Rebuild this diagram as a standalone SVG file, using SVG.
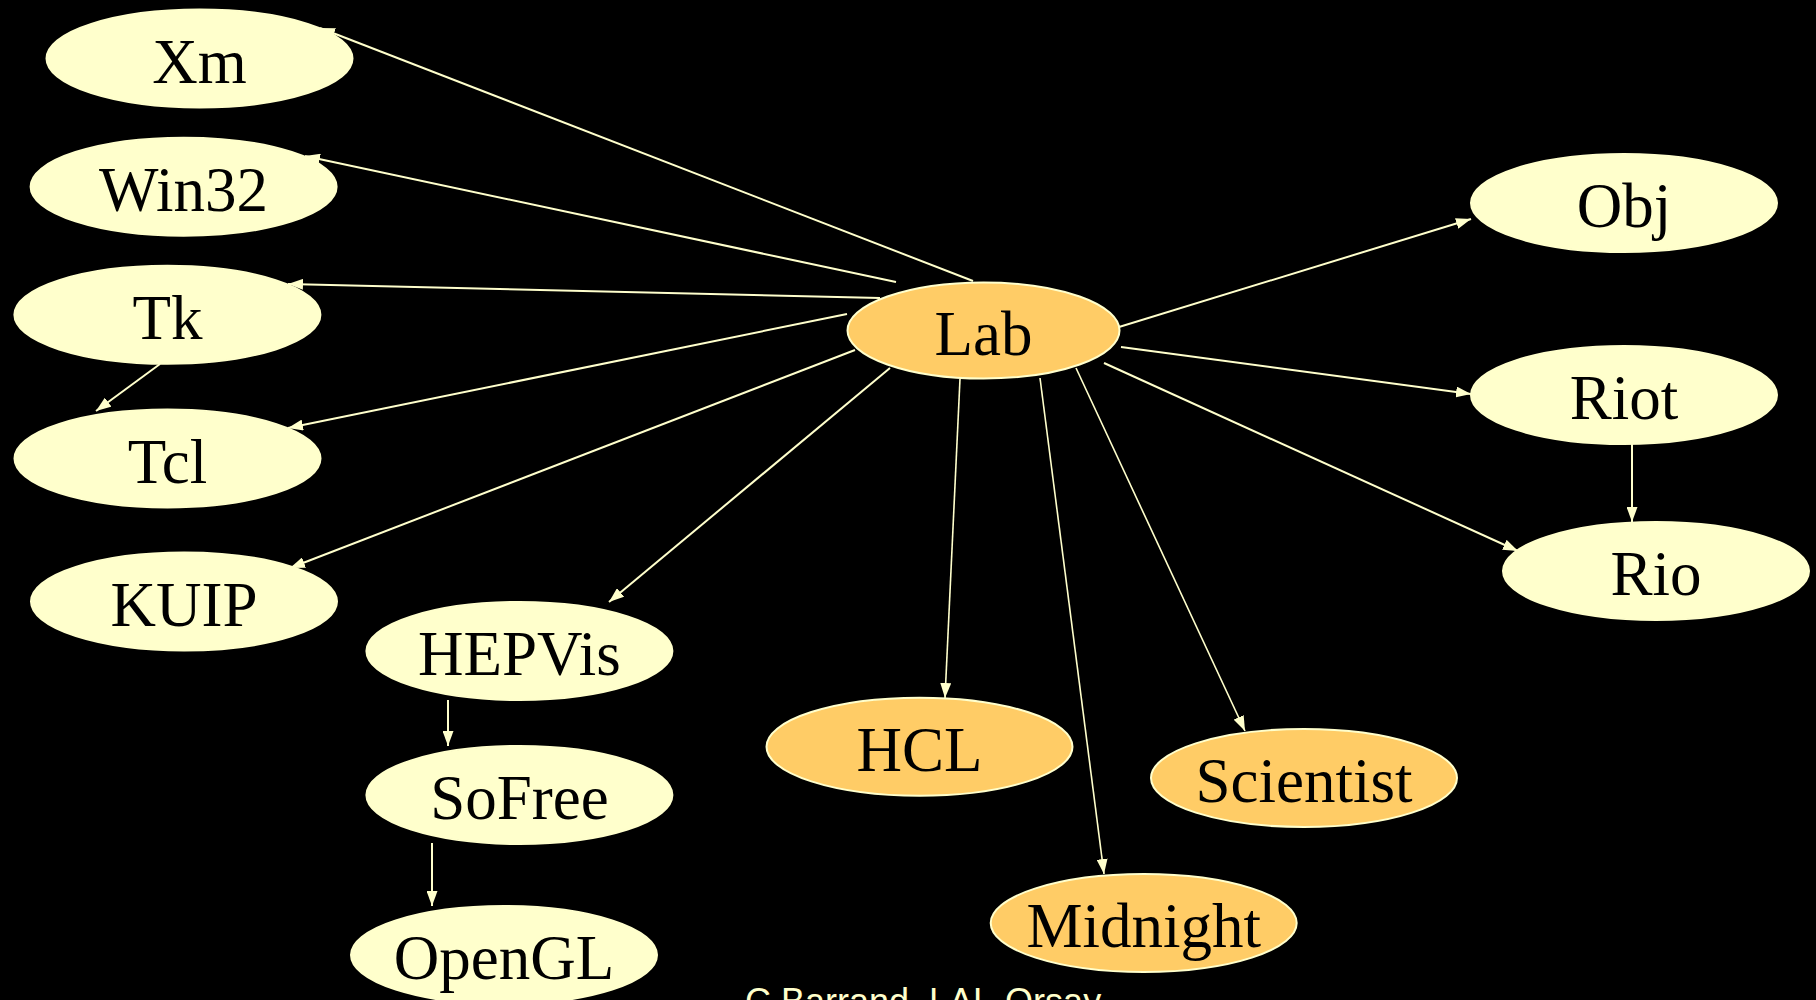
<svg xmlns="http://www.w3.org/2000/svg" width="1816" height="1000" viewBox="0 0 1816 1000">
<style>
.n ellipse{fill:#FFFFCC;stroke:#FFFFCC;stroke-width:2}
.n.o ellipse{fill:#FFCC66}
.n text{font-family:"Liberation Serif","Times New Roman",serif;font-size:63px;fill:#000;text-anchor:middle}
.e line{stroke:#FFFFCC;stroke-width:2;marker-end:url(#ah)}
.e line.t{stroke-width:1.6}
.foot{font-family:"Liberation Sans",Arial,sans-serif;font-size:36px;fill:#FFFFCC}
</style>
<defs>
<marker id="ah" viewBox="0 0 15 11" refX="15" refY="5.5" markerWidth="15" markerHeight="11" markerUnits="userSpaceOnUse" orient="auto">
<path d="M0,0 L15,5.5 L0,11 z" fill="#FFFFCC"/>
</marker>
</defs>
<rect width="1816" height="1000" fill="#000"/>
<g id="connectors" class="e">
<line x1="973" y1="281" x2="320" y2="28"/>
<line x1="896" y1="282" x2="305" y2="156"/>
<line x1="880" y1="298" x2="288" y2="284"/>
<line x1="847" y1="314" x2="288" y2="428"/>
<line x1="855" y1="350" x2="290" y2="568"/>
<line x1="890" y1="368" x2="609" y2="602"/>
<line x1="160" y1="364" x2="96" y2="411"/>
<line class="t" x1="960" y1="379" x2="945" y2="698"/>
<line class="t" x1="1040" y1="378" x2="1104" y2="874"/>
<line class="t" x1="1076" y1="368" x2="1245" y2="731"/>
<line x1="448" y1="700" x2="448" y2="746"/>
<line x1="432" y1="843" x2="432" y2="906"/>
<line x1="1106" y1="331" x2="1471" y2="219"/>
<line x1="1121" y1="347" x2="1471" y2="394"/>
<line x1="1104" y1="363" x2="1518" y2="551"/>
<line x1="1632" y1="443" x2="1632" y2="522"/>
</g>
<g id="Xm" class="n"><ellipse cx="199.5" cy="58.5" rx="153" ry="49"/><text x="199.5" y="82.5">Xm</text></g>
<g id="Win32" class="n"><ellipse cx="183.6" cy="186.7" rx="153" ry="49"/><text x="183.6" y="210.7">Win32</text></g>
<g id="Tk" class="n"><ellipse cx="167.4" cy="314.8" rx="153" ry="49"/><text x="167.4" y="338.8">Tk</text></g>
<g id="Tcl" class="n"><ellipse cx="167.5" cy="458.5" rx="153" ry="49"/><text x="167.5" y="482.5">Tcl</text></g>
<g id="KUIP" class="n"><ellipse cx="184" cy="601.5" rx="153" ry="49"/><text x="184" y="625.5">KUIP</text></g>
<g id="Lab" class="n o"><ellipse cx="983.5" cy="330.5" rx="136" ry="48"/><text x="983.5" y="354.5">Lab</text></g>
<g id="HEPVis" class="n"><ellipse cx="519.4" cy="651" rx="153" ry="49"/><text x="519.4" y="675">HEPVis</text></g>
<g id="SoFree" class="n"><ellipse cx="519.4" cy="795" rx="153" ry="49"/><text x="519.4" y="819">SoFree</text></g>
<g id="OpenGL" class="n"><ellipse cx="504" cy="955" rx="153" ry="49"/><text x="504" y="979">OpenGL</text></g>
<g id="HCL" class="n o"><ellipse cx="919.5" cy="746.7" rx="153" ry="49"/><text x="919.5" y="770.7">HCL</text></g>
<g id="Midnight" class="n o"><ellipse cx="1143.7" cy="923" rx="153" ry="49"/><text x="1143.7" y="947">Midnight</text></g>
<g id="Scientist" class="n o"><ellipse cx="1304" cy="778" rx="153" ry="49"/><text x="1304" y="802">Scientist</text></g>
<g id="Obj" class="n"><ellipse cx="1624" cy="203" rx="153" ry="49"/><text x="1624" y="227">Obj</text></g>
<g id="Riot" class="n"><ellipse cx="1624" cy="395" rx="153" ry="49"/><text x="1624" y="419">Riot</text></g>
<g id="Rio" class="n"><ellipse cx="1656" cy="571" rx="153" ry="49"/><text x="1656" y="595">Rio</text></g>
<text class="foot" x="745" y="1014">C.Barrand, LAL-Orsay</text>
</svg>
